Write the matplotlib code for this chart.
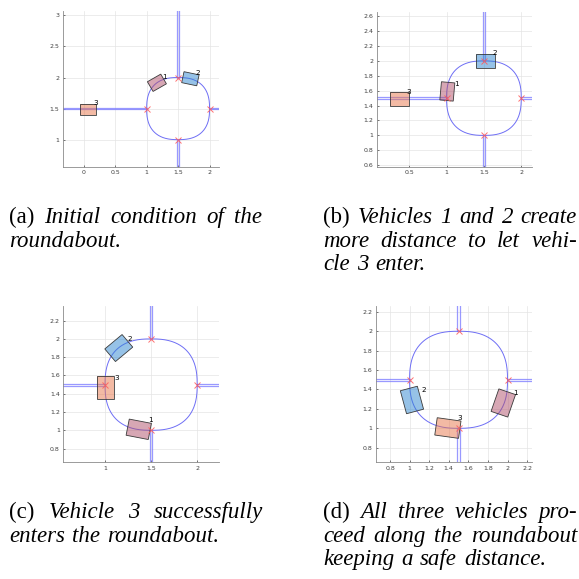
import numpy as np
import matplotlib
matplotlib.use('Agg')
import matplotlib.pyplot as plt
from matplotlib.patches import Polygon
from matplotlib.ticker import FuncFormatter

# ---------------- data ----------------
vehicle_ids = ["1", "2", "3"]
# panel (a)
a_x = [1.163, 1.695, 0.07]
a_y = [1.915, 1.98, 1.49]
a_ang = [30, -12, 0]
# panel (b)
b_x = [1.01, 1.52, 0.37]
b_y = [1.59, 2.00, 1.486]
b_ang = [85, 0, 0]
# panel (c)
c_x = [1.366, 1.149, 1.005]
c_y = [1.011, 1.90, 1.47]
c_ang = [-11, 40, 90]
# panel (d)
d_x = [1.957, 1.024, 1.391]
d_y = [1.261, 1.292, 1.003]
d_ang = [71, 105, -8]

# entry / exit points of the roundabout
node_x = [1.5, 1.0, 2.0, 1.5]
node_y = [2.0, 1.5, 1.5, 1.0]

# axis ticks per panel
a_xticks = [0, 0.5, 1, 1.5, 2]
a_yticks = [1, 1.5, 2, 2.5, 3]
b_xticks = [0.5, 1, 1.5, 2]
b_yticks = [0.6, 0.8, 1, 1.2, 1.4, 1.6, 1.8, 2, 2.2, 2.4, 2.6]
c_xticks = [1, 1.5, 2]
c_yticks = [0.8, 1, 1.2, 1.4, 1.6, 1.8, 2, 2.2]
d_xticks = [0.8, 1, 1.2, 1.4, 1.6, 1.8, 2, 2.2]
d_yticks = [0.8, 1, 1.2, 1.4, 1.6, 1.8, 2, 2.2]

cap_a = ["(a) Initial condition of the", "roundabout."]
cap_b = ["(b) Vehicles 1 and 2 create", "more distance to let vehi-", "cle 3 enter."]
cap_c = ["(c) Vehicle 3 successfully", "enters the roundabout."]
cap_d = ["(d) All three vehicles pro-", "ceed along the roundabout", "keeping a safe distance."]

# ---------------- styling ----------------
W = H = 579
fig = plt.figure(figsize=(5.79, 5.79), dpi=100)

VEH_FACE = ["#b0506a", "#2f86d0", "#e8764a"]
VEH_ALPHA = 0.5
CAR_L, CAR_W = 0.245, 0.18
LABEL_DX, LABEL_DY = 0.125, 0.10
LANE_OFF = 0.012
ROAD_COL = "#8080ff"
RING_COL = "#6e6ef5"


def ax_rect(l, t, r, b):
    return [l / W, 1 - b / H, (r - l) / W, (b - t) / H]


def squircle(cx=1.5, cy=1.5, r=0.5, n=2.5, num=500):
    t = np.linspace(0, 2 * np.pi, num)
    c, s = np.cos(t), np.sin(t)
    x = cx + r * np.sign(c) * np.abs(c) ** (2 / n)
    y = cy + r * np.sign(s) * np.abs(s) ** (2 / n)
    return x, y


def draw_panel(ax, xs, ys, angs, xlim, ylim, xticks, yticks):
    # roads (double lane lines)
    for off in (-LANE_OFF, LANE_OFF):
        kw = dict(color=ROAD_COL, lw=0.9, alpha=0.8, zorder=2)
        ax.plot([1.5 + off, 1.5 + off], [2.0, 10], **kw)
        ax.plot([1.5 + off, 1.5 + off], [-10, 1.0], **kw)
        ax.plot([-10, 1.0], [1.5 + off, 1.5 + off], **kw)
        ax.plot([2.0, 10], [1.5 + off, 1.5 + off], **kw)
    rx, ry = squircle()
    ax.plot(rx, ry, color=RING_COL, lw=0.7, zorder=2)
    ax.plot(node_x, node_y, 'x', color="#ff5a5a", ms=4, mew=0.7, zorder=4, alpha=0.85)
    for i in range(3):
        th = np.deg2rad(angs[i])
        R = np.array([[np.cos(th), -np.sin(th)], [np.sin(th), np.cos(th)]])
        corners = np.array([[-CAR_L / 2, -CAR_W / 2], [CAR_L / 2, -CAR_W / 2],
                            [CAR_L / 2, CAR_W / 2], [-CAR_L / 2, CAR_W / 2]])
        pts = corners @ R.T + np.array([xs[i], ys[i]])
        ax.add_patch(Polygon(pts, closed=True, facecolor=VEH_FACE[i], alpha=VEH_ALPHA,
                             edgecolor='none', zorder=3))
        ax.add_patch(Polygon(pts, closed=True, facecolor='none', edgecolor='#3a3a3a',
                             lw=0.6, zorder=3.5))
        ax.text(xs[i] + LABEL_DX, ys[i] + LABEL_DY, vehicle_ids[i], fontsize=5.2,
                ha='center', va='center', color='black', zorder=5)
    ax.set_xlim(*xlim)
    ax.set_ylim(*ylim)
    ax.set_xticks(xticks)
    ax.set_yticks(yticks)
    fmt = FuncFormatter(lambda v, p: ('%g' % v))
    ax.xaxis.set_major_formatter(fmt)
    ax.yaxis.set_major_formatter(fmt)
    ax.tick_params(labelsize=4.5, colors='#404040', length=1.5, width=0.5,
                   direction='in', pad=2.5)
    for sp in ('top', 'right'):
        ax.spines[sp].set_visible(False)
    for sp in ('left', 'bottom'):
        ax.spines[sp].set_color('#8a8a8a')
        ax.spines[sp].set_linewidth(0.6)
    ax.grid(True, color='#e4e4e4', lw=0.5, zorder=0)
    ax.set_axisbelow(True)


ax_a = fig.add_axes(ax_rect(63, 11, 219, 167))
draw_panel(ax_a, a_x, a_y, a_ang, (-0.33, 2.15), (0.56, 3.07), a_xticks, a_yticks)
ax_b = fig.add_axes(ax_rect(376.7, 11.7, 531.7, 166.7))
draw_panel(ax_b, b_x, b_y, b_ang, (0.064, 2.14), (0.58, 2.66), b_xticks, b_yticks)
ax_c = fig.add_axes(ax_rect(63.3, 306, 219.3, 462.3))
draw_panel(ax_c, c_x, c_y, c_ang, (0.547, 2.24), (0.65, 2.36), c_xticks, c_yticks)
ax_d = fig.add_axes(ax_rect(376, 306, 532, 462.3))
draw_panel(ax_d, d_x, d_y, d_ang, (0.657, 2.25), (0.65, 2.26), d_xticks, d_yticks)

# ---------------- captions (justified) ----------------
FS = 16.5
SERIF = ['Liberation Serif', 'DejaVu Serif']
renderer = fig.canvas.get_renderer()
SPACE = 7.0


def caption(x0, x1, y0, lines, dy=23.3):
    for li, line in enumerate(lines):
        y = y0 + li * dy
        words = line.split(' ')
        justify = li < len(lines) - 1
        styles = []
        for wi, w in enumerate(words):
            styles.append('normal' if (li == 0 and wi == 0) else 'italic')
        texts = [fig.text(0, 1 - y / H, w, fontsize=FS, family=SERIF, style=s,
                          ha='left', va='baseline', color='black')
                 for w, s in zip(words, styles)]
        widths = [t.get_window_extent(renderer).width for t in texts]
        if justify and len(words) > 1:
            gap = (x1 - x0 - sum(widths)) / (len(words) - 1)
        else:
            gap = SPACE
        x = x0
        for t, w in zip(texts, widths):
            t.set_x(x / W)
            x += w + gap


caption(9.3, 262, 223.3, cap_a)
caption(323, 577, 223.3, cap_b)
caption(9.3, 263, 518.3, cap_c)
caption(323.3, 577, 518.3, cap_d)

fig.savefig('out.png', dpi=100)
